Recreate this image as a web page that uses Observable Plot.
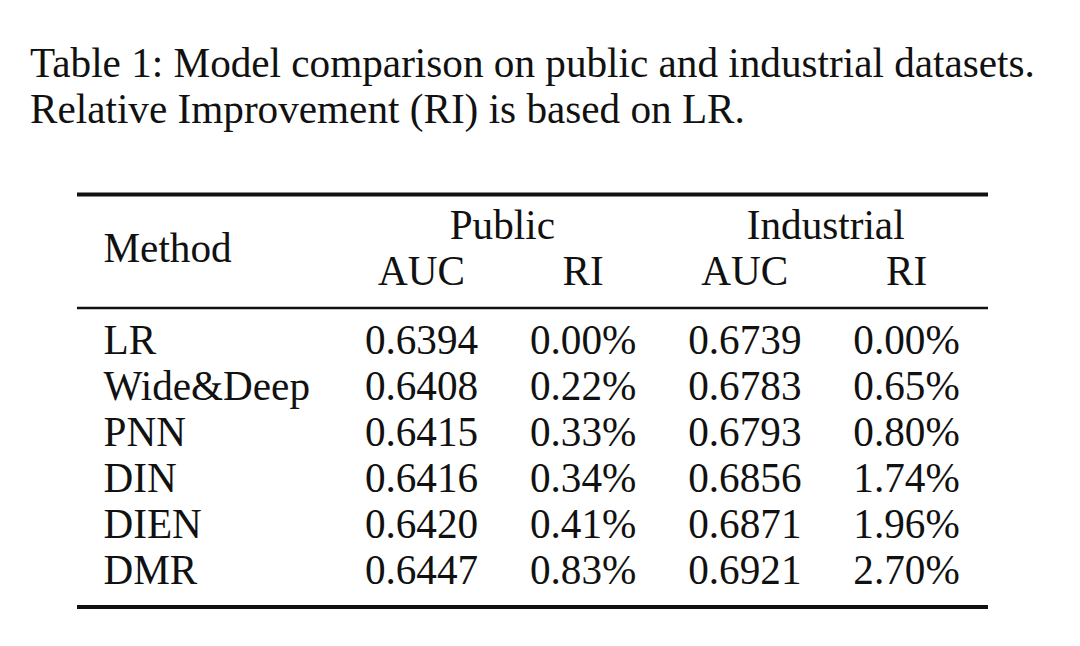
<!DOCTYPE html>
<html>
<head>
<meta charset="utf-8">
<script src="https://cdn.jsdelivr.net/npm/d3@7"></script>
<script src="https://cdn.jsdelivr.net/npm/@observablehq/plot@0.6"></script>
<style>
  html, body { margin: 0; padding: 0; background: #fff; }
  #title {
    box-sizing: border-box; height: 150px; padding: 40px 0 0 30px;
    font-family: "Liberation Serif", "Times New Roman", serif;
    font-size: 41.2px; line-height: 46px; color: #111; white-space: nowrap;
  }
  #chart svg { display: block; }
</style>
</head>
<body>
<div id="title">Table 1: Model comparison on public and industrial datasets.<br>Relative Improvement (RI) is based on LR.</div>
<div id="chart"></div>
<script>
// ---- data ----
const methods = ["LR", "Wide&Deep", "PNN", "DIN", "DIEN", "DMR"];
const publicAUC = [0.6394, 0.6408, 0.6415, 0.6416, 0.6420, 0.6447];
const publicRI = [0.00, 0.22, 0.33, 0.34, 0.41, 0.83];
const industrialAUC = [0.6739, 0.6783, 0.6793, 0.6856, 0.6871, 0.6921];
const industrialRI = [0.00, 0.65, 0.80, 1.74, 1.96, 2.70];
const groupHeaders = ["Public", "Industrial"];
const subHeaders = ["AUC", "RI", "AUC", "RI"];
const methodHeader = "Method";

// ---- table cells ----
const fmtAUC = v => v.toFixed(4);
const fmtRI = v => v.toFixed(2) + "%";
const columns = [
  {vals: publicAUC, fmt: fmtAUC},
  {vals: publicRI, fmt: fmtRI},
  {vals: industrialAUC, fmt: fmtAUC},
  {vals: industrialRI, fmt: fmtRI}
];
const cells = [];
columns.forEach((c, j) => c.vals.forEach((v, i) => cells.push({row: i, col: j, text: c.fmt(v)})));
const groups = groupHeaders.map((g, k) => ({col: 2 * k + 0.5, text: g}));
const subs = subHeaders.map((s, j) => ({col: j, text: s}));

// layout rows (in row units; data rows are 0..5)
const ROW_GROUP = -2.5, ROW_METHOD = -2, ROW_SUB = -1.5;
const RULE_TOP = -3.47, RULE_MID = -1.0, RULE_BOTTOM = 5.5;

const font = "Liberation Serif, Times New Roman, serif";
const textOpts = {fontFamily: font, fontSize: 41.2, fill: "#111", lineAnchor: "bottom"};

const chart = Plot.plot({
  width: 1080,
  height: 496,
  marginLeft: 77,
  marginRight: 92,
  marginTop: 0,
  marginBottom: 0,
  x: {type: "linear", domain: [0, 3], range: [421, 906], axis: null},
  y: {type: "linear", domain: [0, 5], range: [203.5, 433.5], axis: null},
  style: {background: "#fff", color: "#111"},
  marks: [
    Plot.ruleY([RULE_TOP], {stroke: "#111", strokeWidth: 4}),
    Plot.ruleY([RULE_MID], {stroke: "#111", strokeWidth: 2.5}),
    Plot.ruleY([RULE_BOTTOM], {stroke: "#111", strokeWidth: 4}),
    Plot.text(groups, {...textOpts, x: "col", y: () => ROW_GROUP, text: "text", textAnchor: "middle"}),
    Plot.text(subs, {...textOpts, x: "col", y: () => ROW_SUB, text: "text", textAnchor: "middle"}),
    Plot.text([methodHeader], {...textOpts, frameAnchor: "left", y: () => ROW_METHOD, text: d => d, textAnchor: "start", dx: 26}),
    Plot.text(methods, {...textOpts, frameAnchor: "left", y: (d, i) => i, text: d => d, textAnchor: "start", dx: 26}),
    Plot.text(cells, {...textOpts, x: "col", y: "row", text: "text", textAnchor: "middle"})
  ]
});
document.getElementById("chart").appendChild(chart);
</script>
</body>
</html>
